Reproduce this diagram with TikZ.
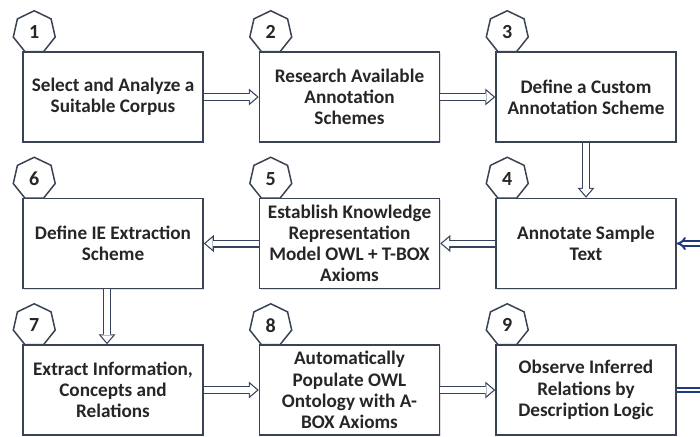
\documentclass[tikz,border=0pt]{standalone}
\usepackage{fontspec}
\setmainfont{Carlito}
\usetikzlibrary{arrows.meta,positioning,shapes.geometric,shadows}
\definecolor{Ink}{HTML}{262626}
\definecolor{Frame}{HTML}{3A4354}
\definecolor{Pipe}{HTML}{34425E}
\definecolor{Back}{HTML}{1F3A80}
\tikzset{
  stage/.style={draw=Frame,fill=white,line width=0.75pt,minimum width=90pt,minimum height=45pt,inner sep=1pt,align=center,font=\fontsize{9.6}{10.6}\selectfont\bfseries,text=Ink,drop shadow={opacity=0.25,shadow xshift=0.7pt,shadow yshift=-0.7pt}},
  badge/.style={draw=Frame,fill=white,line width=0.75pt,regular polygon,regular polygon sides=7,minimum size=21.5pt,inner sep=0pt,font=\fontsize{10}{10}\selectfont\bfseries,text=Ink},
  flow/.style={draw=Pipe,line width=4pt,-{Triangle[length=5pt,width=8.5pt,line width=0pt]},postaction={draw=white,line width=2.8pt,shorten >=0.93pt,-{Triangle[length=3.47pt,width=5.9pt,line width=0pt]}}},
  feedback/.style={draw=Back,double=white,line width=1pt,double distance=1.1pt,-{Implies[length=5pt,width=9pt]}}
}
\begin{document}
\begin{tikzpicture}[node distance=27.5pt and 27.5pt]
  \useasboundingbox (0,0) rectangle (350pt,-218pt);
  \node[stage] (n1) at (56.5pt,-48.5pt) {Select and Analyze a\\Suitable Corpus};
  \node[stage,right=of n1] (n2) {Research Available\\Annotation\\Schemes};
  \node[stage,right=of n2] (n3) {Define a Custom\\Annotation Scheme};
  \node[stage,below=of n3] (n4) {Annotate Sample\\Text};
  \node[stage,left=of n4] (n5) {Establish Knowledge\\Representation\\Model OWL + T-BOX\\Axioms};
  \node[stage,left=of n5] (n6) {Define IE Extraction\\Scheme};
  \node[stage,below=of n6] (n7) {Extract Information,\\Concepts and\\Relations};
  \node[stage,right=of n7] (n8) {Automatically\\Populate OWL\\Ontology with A-\\BOX Axioms};
  \node[stage,right=of n8] (n9) {Observe Inferred\\Relations by\\Description Logic};
  \foreach \i in {1,...,9}
    \node[badge] (b\i) at ([xshift=6pt,yshift=9.5pt]n\i.north west) {\i};
  \draw[flow] (n1) -- (n2);
  \draw[flow] (n2) -- (n3);
  \draw[flow] (n3) -- (n4);
  \draw[flow] (n4) -- (n5);
  \draw[flow] (n5) -- (n6);
  \draw[flow] ([xshift=-3pt]n6.south) -- ([xshift=-3pt]n7.north);
  \draw[flow] (n7) -- (n8);
  \draw[flow] (n8) -- (n9);
  \draw[feedback] (n9.east) -- ++(20pt,0) |- (n4.east);
\end{tikzpicture}
\end{document}
